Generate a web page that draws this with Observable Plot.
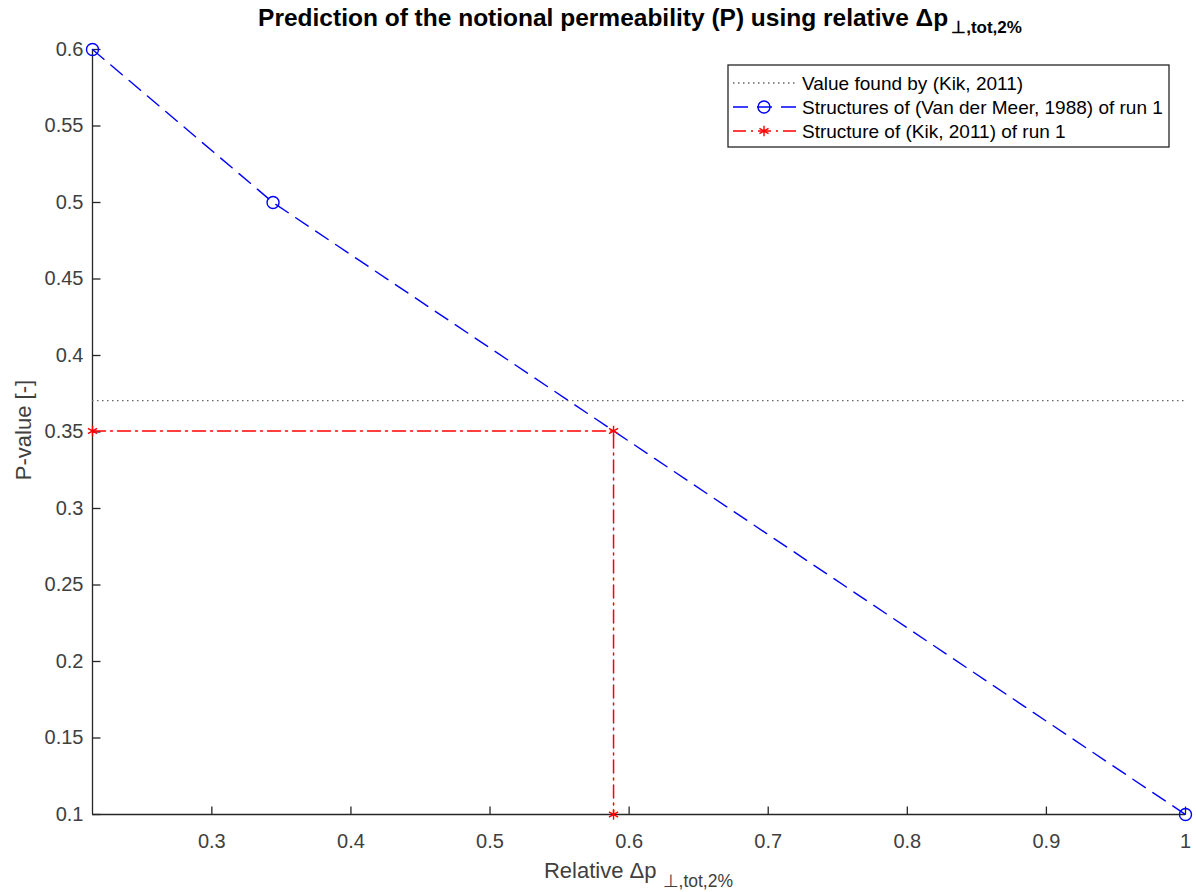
<!DOCTYPE html>
<html>
<head>
<meta charset="utf-8">
<script src="https://cdn.jsdelivr.net/npm/d3@7"></script>
<script src="https://cdn.jsdelivr.net/npm/@observablehq/plot@0.6"></script>
<style>
  body { margin: 0; background: #fff; }
  #chart svg { overflow: visible; display: block; }
</style>
</head>
<body>
<div id="chart"></div>
<script>
// ---- data ----
const vdmX = [0.2142, 0.344, 1.0];          // Structures of (Van der Meer, 1988) of run 1
const vdmP = [0.6, 0.5, 0.1];
const kikX = [0.2142, 0.5888, 0.5888];      // Structure of (Kik, 2011) of run 1
const kikP = [0.3507, 0.3507, 0.1];
const kikValue = [0.3705];                  // Value found by (Kik, 2011)
const xDomain = [0.2142, 1.0];
const yDomain = [0.1, 0.6];
const xTicks = [0.3, 0.4, 0.5, 0.6, 0.7, 0.8, 0.9, 1];
const yTicks = [0.1, 0.15, 0.2, 0.25, 0.3, 0.35, 0.4, 0.45, 0.5, 0.55, 0.6];
const titleMain = "Prediction of the notional permeability (P) using relative \u0394p";
const titleSub = "\u22A5,tot,2%";
const xLabelMain = "Relative \u0394p";
const xLabelSub = "\u22A5,tot,2%";
const yLabel = "P-value [-]";
const legendLabels = [
  "Value found by (Kik, 2011)",
  "Structures of (Van der Meer, 1988) of run 1",
  "Structure of (Kik, 2011) of run 1"
];

// ---- tables built from the arrays ----
const vdm = vdmX.map((x, i) => ({x, p: vdmP[i]}));
const kik = kikX.map((x, i) => ({x, p: kikP[i]}));

const axisColor = "#262626";
const textColor = "#404040";
const blue = "#0000ff";
const red = "#ff0000";
const gray = "#666666";
const blueDash = "15,9";
const redDash = "13,5,2,5";
const grayDash = "1.5,3.5";

const tickUp = {draw(ctx) { ctx.moveTo(0, 0); ctx.lineTo(0, -8); }};
const tickRight = {draw(ctx) { ctx.moveTo(0, 0); ctx.lineTo(8, 0); }};

const W = 1196, H = 892;
const font = "'Liberation Sans', Arial, sans-serif";
const plot = Plot.plot({
  width: W, height: H,
  marginLeft: 92, marginRight: 11, marginTop: 49, marginBottom: 78,
  style: {fontFamily: font, fontSize: "20px", color: textColor, background: "#fff"},
  x: {domain: xDomain},
  y: {domain: yDomain},
  marks: [
    Plot.axisX({ticks: xTicks, tickSize: 0, tickPadding: 19, label: null, tickFormat: d => String(d), fontSize: 20, fill: textColor}),
    Plot.axisY({ticks: yTicks, tickSize: 0, tickPadding: 9, label: null, tickFormat: d => String(d), fontSize: 20, fill: textColor}),
    Plot.ruleX([xDomain[0]], {stroke: axisColor, strokeWidth: 1.3}),
    Plot.ruleY([yDomain[0]], {stroke: axisColor, strokeWidth: 1.3}),
    Plot.dot(xTicks, {x: d => d, y: yDomain[0], symbol: tickUp, stroke: axisColor, fill: "none", strokeWidth: 1.3}),
    Plot.dot(yTicks, {x: xDomain[0], y: d => d, symbol: tickRight, stroke: axisColor, fill: "none", strokeWidth: 1.3}),
    Plot.ruleY(kikValue, {stroke: gray, strokeDasharray: grayDash, strokeWidth: 1.3}),
    Plot.line(kik, {x: "x", y: "p", stroke: red, strokeDasharray: redDash, strokeWidth: 1.5}),
    Plot.line(vdm, {x: "x", y: "p", stroke: blue, strokeDasharray: blueDash, strokeWidth: 1.4}),
    Plot.dot(kik, {x: "x", y: "p", symbol: "asterisk", r: 5, stroke: red, strokeWidth: 1.4}),
    Plot.dot(vdm, {x: "x", y: "p", symbol: "circle", r: 6, stroke: blue, fill: "none", strokeWidth: 1.4})
  ]
});
document.getElementById("chart").appendChild(plot);

// ---- title, axis labels and legend (real SVG text) ----
const svg = d3.select(plot);
const cx = (92 + (W - 11)) / 2;

const t = svg.append("text").attr("x", 640).attr("y", 26).attr("text-anchor", "middle")
  .attr("font-family", font).attr("font-weight", "bold").attr("font-size", 24.5).attr("fill", "#000");
t.append("tspan").text(titleMain);
t.append("tspan").attr("dy", 7).attr("dx", 3).attr("font-size", 17).text(titleSub);

const xl = svg.append("text").attr("x", cx).attr("y", 878).attr("text-anchor", "middle")
  .attr("font-family", font).attr("font-size", 22).attr("fill", textColor);
xl.append("tspan").text(xLabelMain);
xl.append("tspan").attr("dy", 9).attr("dx", 6).attr("font-size", 17.5).text(xLabelSub);

svg.append("text").attr("transform", `translate(31,430) rotate(-90)`)
  .attr("text-anchor", "middle").attr("font-family", font).attr("font-size", 22).attr("fill", textColor)
  .text(yLabel);

const lg = svg.append("g").attr("transform", "translate(728,65)").attr("text-anchor", "start");
lg.append("rect").attr("width", 441).attr("height", 82).attr("fill", "#fff").attr("stroke", axisColor).attr("stroke-width", 1.3);
const rows = [18, 42, 66];
const styles = [
  {stroke: gray, dash: grayDash, marker: null},
  {stroke: blue, dash: blueDash, marker: "circle"},
  {stroke: red, dash: redDash, marker: "asterisk"}
];
legendLabels.forEach((label, i) => {
  const y = rows[i], s = styles[i];
  lg.append("line").attr("x1", 5).attr("x2", 69).attr("y1", y).attr("y2", y)
    .attr("stroke", s.stroke).attr("stroke-dasharray", s.dash).attr("stroke-width", 1.3);
  if (s.marker === "circle") {
    lg.append("circle").attr("cx", 36).attr("cy", y).attr("r", 6).attr("fill", "none").attr("stroke", s.stroke).attr("stroke-width", 1.4);
  } else if (s.marker === "asterisk") {
    lg.append("path").attr("transform", `translate(36,${y})`).attr("d", d3.symbol(d3.symbolAsterisk, 78)())
      .attr("fill", "none").attr("stroke", s.stroke).attr("stroke-width", 1.4);
  }
  lg.append("text").attr("x", 74).attr("y", y + 7).attr("font-family", font).attr("font-size", 19).attr("fill", "#000").text(label);
});
</script>
</body>
</html>
